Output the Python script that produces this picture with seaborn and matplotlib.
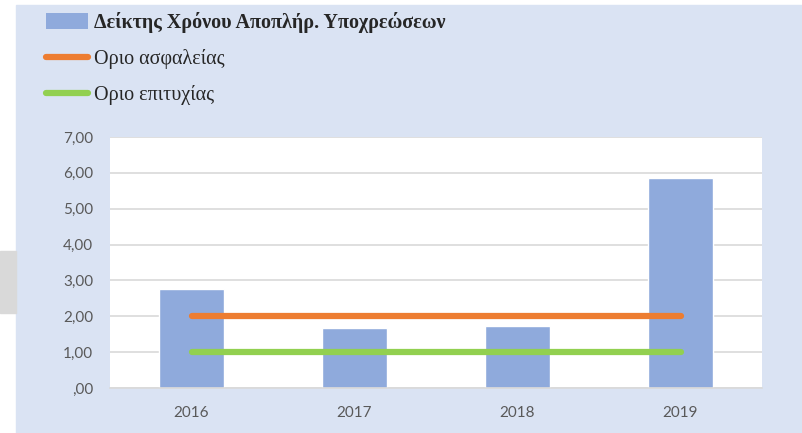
import matplotlib
matplotlib.use("Agg")
import matplotlib.pyplot as plt
import seaborn as sns
from matplotlib.patches import Patch, Rectangle
from matplotlib.lines import Line2D

years = ["2016", "2017", "2018", "2019"]
ratio = [2.75, 1.66, 1.74, 5.86]
safety_limit = [2.0, 2.0, 2.0, 2.0]
success_limit = [1.0, 1.0, 1.0, 1.0]
yticks = [0, 1, 2, 3, 4, 5, 6, 7]
ytick_labels = [",00", "1,00", "2,00", "3,00", "4,00", "5,00", "6,00", "7,00"]

label_ratio = "Δείκτης Χρόνου Αποπλήρ. Υποχρεώσεων"
label_safety = "Οριο ασφαλείας"
label_success = "Οριο επιτυχίας"

bar_color = "#8FAADC"
orange = "#ED7D31"
green = "#92D050"
panel = "#DAE3F3"

sns.set_style("white")
plt.rcParams['font.family'] = ['Lato', 'DejaVu Sans']

fig = plt.figure(figsize=(8.02, 4.33), dpi=100)
fig.patch.set_facecolor("white")
fig.patches.append(Rectangle((16 / 802, 0), 1 - 16 / 802, 1 - 5 / 433,
                             transform=fig.transFigure, color=panel, zorder=-10))
fig.patches.append(Rectangle((0, 1 - 313 / 433), 16 / 802, 62 / 433,
                             transform=fig.transFigure, color="#D9D9D9", zorder=-10))

ax = fig.add_axes([110 / 802, 1 - 388 / 433, 652 / 802, 251 / 433])
ax.set_facecolor("white")

sns.barplot(x=years, y=ratio, color=bar_color, width=0.4, saturation=1, ax=ax, zorder=2)
pos = list(range(len(years)))
sns.lineplot(x=pos, y=safety_limit, color=orange, linewidth=4.5, ax=ax, zorder=3,
             solid_capstyle="round")
sns.lineplot(x=pos, y=success_limit, color=green, linewidth=4.5, ax=ax, zorder=3,
             solid_capstyle="round")

ax.set_xlim(-0.5, 3.5)
ax.set_ylim(0, 7)
ax.set_yticks(yticks)
ax.set_yticklabels(ytick_labels)
ax.set_xticks(pos)
ax.set_xticklabels(years)
ax.grid(axis="y", color="#D9D9D9", linewidth=1.2, zorder=0)
ax.set_axisbelow(True)
for s in ["top", "right", "left"]:
    ax.spines[s].set_visible(False)
ax.spines["bottom"].set_color("#D9D9D9")
ax.spines["bottom"].set_linewidth(1.2)
ax.tick_params(axis="both", length=0, labelsize=11, colors="#595959")
ax.tick_params(axis="y", pad=12)
ax.tick_params(axis="x", pad=13)
ax.set_xlabel("")
ax.set_ylabel("")

handles = [
    Patch(facecolor=bar_color, edgecolor="none"),
    Line2D([0], [0], color=orange, linewidth=4.5, solid_capstyle="round"),
    Line2D([0], [0], color=green, linewidth=4.5, solid_capstyle="round"),
]
leg = fig.legend(handles, [label_ratio, label_safety, label_success],
                 loc="upper left", bbox_to_anchor=(46 / 802, 1 - 12 / 433),
                 frameon=False, borderpad=0, borderaxespad=0,
                 handlelength=2.1, handleheight=0.8, handletextpad=0.3,
                 labelspacing=0.8,
                 prop={"family": "Liberation Serif", "size": 14.5})
leg.get_texts()[0].set_fontweight("bold")

fig.savefig("out.png", dpi=100)
